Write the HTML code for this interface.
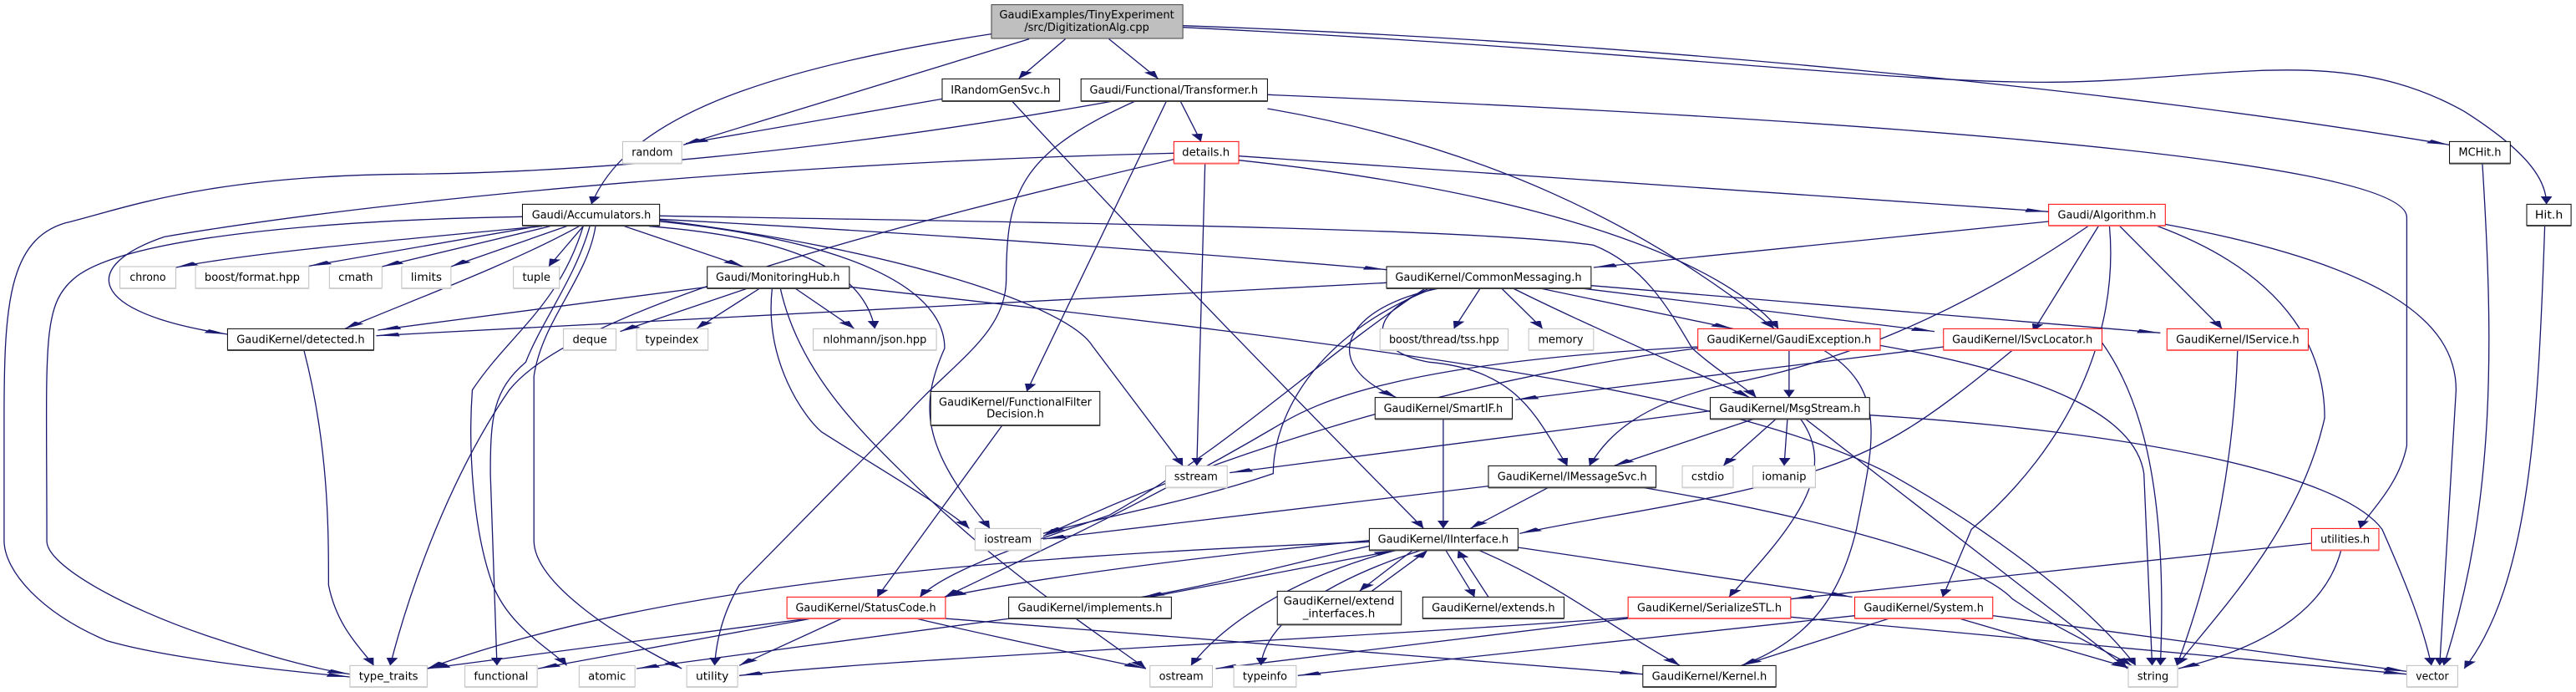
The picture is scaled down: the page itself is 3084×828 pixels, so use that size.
<!DOCTYPE html>
<html><head><meta charset="utf-8"><style>
html,body{margin:0;padding:0;background:#fff;}
svg{display:block;}
text{font-family:"DejaVu Sans","Liberation Sans",sans-serif;font-size:40px;fill:#000;}
.e{fill:none;stroke:#191970;stroke-width:1.3;vector-effect:non-scaling-stroke;marker-end:url(#a);}
.n{fill:#fff;stroke:#000;stroke-width:1;vector-effect:non-scaling-stroke;}
.g{fill:#fff;stroke:#bfbfbf;stroke-width:1;vector-effect:non-scaling-stroke;}
.r{fill:#fff;stroke:#ff0000;stroke-width:1;vector-effect:non-scaling-stroke;}
.s{stroke:#404040;stroke-width:2;vector-effect:non-scaling-stroke;}
.sg{stroke:#d0d0d0;stroke-width:2;vector-effect:non-scaling-stroke;}
.sr{stroke:#ff6060;stroke-width:2;vector-effect:non-scaling-stroke;}
</style></head><body>
<svg width="3084" height="828" viewBox="0 0 3136 2484" preserveAspectRatio="none" xmlns="http://www.w3.org/2000/svg">
<defs>
<marker id="a" markerUnits="userSpaceOnUse" viewBox="0 0 10 10" markerWidth="28" markerHeight="14" refX="10" refY="5" orient="auto" preserveAspectRatio="none">
<path d="M0,0 L10,5 L0,10 z" fill="#191970"/>
</marker>
</defs>

<!-- edges -->
<path class="e" d="M1207,122 C900,260 760,450 720,733"/>
<path class="e" d="M1253,140 L832,520"/>
<path class="e" d="M1297,140 L1240,283"/>
<path class="e" d="M1350,140 L1410,283"/>
<path class="e" d="M1440,92 C2000,150 2600,330 2982,520"/>
<path class="e" d="M1440,98 C2000,180 2300,300 2500,295 C2700,290 2850,150 3000,400 C3080,550 3100,650 3100,733"/>
<path class="e" d="M1147,355 L835,515"/>
<path class="e" d="M1232,363 C1400,900 1600,1500 1733,1897"/>
<path class="e" d="M1355,363 C1000,550 700,620 500,625 C250,630 150,750 80,800 C10,860 5,1100 5,1500 L5,1940 C5,2050 50,2200 130,2300 C200,2360 320,2400 426,2430"/>
<path class="e" d="M1382,363 C1240,550 1225,700 1225,1000 C1225,1200 1160,1300 1100,1500 L900,2100 C880,2200 872,2300 870,2389"/>
<path class="e" d="M1420,363 L1250,1405"/>
<path class="e" d="M1437,363 L1462,508"/>
<path class="e" d="M1543,390 C1800,520 2000,800 2160,1180"/>
<path class="e" d="M1543,340 C2200,420 2930,560 2930,780 L2930,1600 C2920,1750 2880,1850 2873,1897"/>
<path class="e" d="M1429,550 C1000,580 500,700 200,850 C100,950 100,1120 277,1200"/>
<path class="e" d="M1467,587 L1457,1672"/>
<path class="e" d="M1429,572 C1100,800 700,1100 620,1400 C550,1700 500,2100 475,2389"/>
<path class="e" d="M1508,560 L2494,760"/>
<path class="e" d="M1508,575 C1900,700 2100,950 2165,1180"/>
<path class="e" d="M660,812 C450,870 300,910 214,960"/>
<path class="e" d="M655,812 L376,955"/>
<path class="e" d="M670,812 L465,957"/>
<path class="e" d="M690,812 L549,957"/>
<path class="e" d="M710,812 L668,957"/>
<path class="e" d="M760,812 L905,957"/>
<path class="e" d="M705,812 C620,950 500,1080 420,1180"/>
<path class="e" d="M636,778 C400,790 150,850 90,1000 C50,1100 57,1242 57,1942 C57,2030 150,2180 250,2280 C320,2350 380,2400 426,2420"/>
<path class="e" d="M725,812 C715,1000 660,1150 650,1350 L650,1940 C650,2100 760,2300 830,2400"/>
<path class="e" d="M718,812 C700,1000 660,1150 640,1300 C600,1400 597,1500 597,1700 L605,2389"/>
<path class="e" d="M710,812 C680,1100 620,1200 575,1400 C570,1600 575,1900 600,2100 C620,2250 670,2330 690,2389"/>
<path class="e" d="M803,795 C1050,870 1150,1050 1150,1250 C1120,1450 1120,1600 1205,1897"/>
<path class="e" d="M803,790 C1100,900 1300,1100 1330,1242 L1440,1672"/>
<path class="e" d="M790,812 C950,850 1050,950 1065,1180"/>
<path class="e" d="M803,787 C1200,850 1500,920 1688,968"/>
<path class="e" d="M803,775 C1300,800 1800,820 1940,880 C2000,950 2030,1100 2060,1250 C2090,1330 2120,1380 2138,1427"/>
<path class="e" d="M861,1030 L460,1185"/>
<path class="e" d="M910,1035 L755,1190"/>
<path class="e" d="M925,1035 L848,1180"/>
<path class="e" d="M968,1035 L1040,1180"/>
<path class="e" d="M1034,1030 C1700,1250 2100,1400 2300,1700 C2450,1950 2550,2200 2600,2389"/>
<path class="e" d="M940,1035 C930,1300 980,1500 1000,1550 C1080,1700 1140,1800 1180,1897"/>
<path class="e" d="M950,1035 C970,1300 1030,1500 1100,1700 C1200,2000 1300,2200 1395,2400"/>
<path class="e" d="M370,1257 C400,1600 400,1900 400,2100 C410,2250 440,2330 455,2389"/>
<path class="e" d="M1688,1015 L458,1205"/>
<path class="e" d="M1802,1035 L1770,1180"/>
<path class="e" d="M1828,1035 L1878,1180"/>
<path class="e" d="M1875,1035 L2110,1180"/>
<path class="e" d="M1925,1035 L2355,1190"/>
<path class="e" d="M1937,1025 L2630,1195"/>
<path class="e" d="M1842,1035 C1920,1150 2000,1250 2130,1427"/>
<path class="e" d="M1740,1035 C1650,1150 1680,1270 1740,1300 C1850,1330 1870,1500 1908,1672"/>
<path class="e" d="M1752,1035 C1640,1100 1600,1300 1700,1427"/>
<path class="e" d="M1745,1035 C1600,1200 1550,1500 1550,1700 C1450,1800 1350,1850 1270,1915"/>
<path class="e" d="M1735,1035 C1600,1300 1500,1600 1350,1850 C1250,1950 1150,2050 1120,2143"/>
<path class="e" d="M2494,795 L1940,960"/>
<path class="e" d="M2555,810 L2475,1190"/>
<path class="e" d="M2580,810 L2705,1180"/>
<path class="e" d="M2543,810 C2400,1100 2250,1300 2100,1380 C2000,1450 1960,1550 1935,1672"/>
<path class="e" d="M2568,810 C2580,1200 2520,1600 2400,1900 L2365,2143"/>
<path class="e" d="M2625,810 C2800,1000 2830,1300 2830,1500 C2800,1900 2700,2200 2650,2389"/>
<path class="e" d="M2636,805 C2900,950 2990,1150 2990,1400 L2970,2389"/>
<path class="e" d="M2178,1257 L2178,1427"/>
<path class="e" d="M2289,1240 C2500,1350 2600,1500 2610,1700 L2620,2389"/>
<path class="e" d="M2220,1257 C2300,1400 2280,1600 2260,1900 C2240,2150 2200,2300 2120,2389"/>
<path class="e" d="M2067,1250 C1800,1350 1500,1600 1270,1925"/>
<path class="e" d="M2067,1245 C1700,1300 1600,1450 1560,1520 C1400,1800 1250,2000 1150,2143"/>
<path class="e" d="M2366,1245 L1845,1435"/>
<path class="e" d="M2450,1257 C2350,1500 2300,1600 2220,1680 C2100,1800 1950,1850 1850,1915"/>
<path class="e" d="M2559,1230 C2600,1400 2640,1700 2630,2389"/>
<path class="e" d="M2724,1257 C2720,1600 2700,2000 2650,2389"/>
<path class="e" d="M2082,1475 L1497,1697"/>
<path class="e" d="M2135,1504 L1965,1672"/>
<path class="e" d="M2162,1504 L2098,1672"/>
<path class="e" d="M2176,1504 L2172,1672"/>
<path class="e" d="M2192,1504 C2240,1700 2180,1900 2105,2143"/>
<path class="e" d="M2198,1504 L2590,2400"/>
<path class="e" d="M2276,1490 C2600,1550 2850,1700 2900,1900 C2930,2100 2950,2250 2960,2389"/>
<path class="e" d="M1757,1504 L1757,1897"/>
<path class="e" d="M1885,1750 L1790,1897"/>
<path class="e" d="M1812,1745 L1270,1935"/>
<path class="e" d="M2000,1750 C2200,1850 2400,2000 2450,2150 C2500,2250 2560,2330 2595,2389"/>
<path class="e" d="M1220,1527 L1068,2143"/>
<path class="e" d="M1667,1940 C1450,2000 1250,2080 1150,2143"/>
<path class="e" d="M1667,1960 C1560,2030 1480,2100 1390,2143"/>
<path class="e" d="M1720,1975 L1655,2122"/>
<path class="e" d="M1670,2122 L1738,1975"/>
<path class="e" d="M1760,1975 L1795,2143"/>
<path class="e" d="M1812,2143 L1775,1975"/>
<path class="e" d="M1800,1975 C1900,2100 1960,2250 2045,2389"/>
<path class="e" d="M1848,1965 L2255,2143"/>
<path class="e" d="M1667,1945 C1200,2000 800,2100 520,2400"/>
<path class="e" d="M1700,1975 C1600,2050 1500,2200 1450,2389"/>
<path class="e" d="M1730,1975 C1600,2100 1540,2250 1535,2389"/>
<path class="e" d="M1400,2143 L1700,1975"/>
<path class="e" d="M1230,2220 L775,2400"/>
<path class="e" d="M985,2220 L520,2400"/>
<path class="e" d="M985,2222 L655,2400"/>
<path class="e" d="M1025,2220 L900,2389"/>
<path class="e" d="M1115,2220 C1200,2280 1300,2340 1395,2400"/>
<path class="e" d="M1150,2220 C1500,2310 1800,2370 2000,2420"/>
<path class="e" d="M1982,2220 L1480,2400"/>
<path class="e" d="M1990,2215 C1600,2300 1100,2360 900,2425"/>
<path class="e" d="M2180,2215 L2930,2420"/>
<path class="e" d="M2385,2220 L2595,2400"/>
<path class="e" d="M2426,2210 L2930,2410"/>
<path class="e" d="M2300,2220 L2120,2389"/>
<path class="e" d="M2258,2210 L1580,2425"/>
<path class="e" d="M2814,1950 L2180,2150"/>
<path class="e" d="M2850,1975 C2830,2200 2750,2330 2652,2400"/>
<path class="e" d="M3022,587 C3035,1200 3040,1800 2975,2389"/>
<path class="e" d="M3098,810 C3090,1500 3080,2100 3000,2400"/>

<!-- nodes -->
<rect x="1207" y="17" width="233" height="121" fill="#bfbfbf" stroke="#404040" stroke-width="1" vector-effect="non-scaling-stroke"/>
<text x="1323" y="66" text-anchor="middle" textLength="213" lengthAdjust="spacingAndGlyphs">GaudiExamples/TinyExperiment</text>
<text x="1323" y="111" text-anchor="middle" textLength="152" lengthAdjust="spacingAndGlyphs">/src/DigitizationAlg.cpp</text>

<g>
<rect class="n" x="1147" y="283" width="143" height="80"/><line class="s" x1="1147" y1="363" x2="1290" y2="363"/>
<text x="1218" y="336" text-anchor="middle" textLength="121" lengthAdjust="spacingAndGlyphs">IRandomGenSvc.h</text>

<rect class="n" x="1316" y="283" width="227" height="80"/><line class="s" x1="1316" y1="363" x2="1543" y2="363"/>
<text x="1429" y="336" text-anchor="middle" textLength="205" lengthAdjust="spacingAndGlyphs">Gaudi/Functional/Transformer.h</text>

<rect class="g" x="758" y="508" width="72" height="79"/><line class="sg" x1="758" y1="587" x2="830" y2="587"/>
<text x="794" y="560" text-anchor="middle" textLength="50" lengthAdjust="spacingAndGlyphs">random</text>

<rect class="r" x="1429" y="508" width="79" height="79"/><line class="sr" x1="1429" y1="587" x2="1508" y2="587"/>
<text x="1468" y="560" text-anchor="middle" textLength="58" lengthAdjust="spacingAndGlyphs">details.h</text>

<rect class="n" x="636" y="733" width="167" height="77"/><line class="s" x1="636" y1="810" x2="803" y2="810"/>
<text x="720" y="785" text-anchor="middle" textLength="145" lengthAdjust="spacingAndGlyphs">Gaudi/Accumulators.h</text>

<rect class="g" x="146" y="957" width="68" height="78"/><line class="sg" x1="146" y1="1035" x2="214" y2="1035"/>
<text x="180" y="1008" text-anchor="middle" textLength="44" lengthAdjust="spacingAndGlyphs">chrono</text>
<rect class="g" x="238" y="957" width="138" height="78"/><line class="sg" x1="238" y1="1035" x2="376" y2="1035"/>
<text x="307" y="1008" text-anchor="middle" textLength="116" lengthAdjust="spacingAndGlyphs">boost/format.hpp</text>
<rect class="g" x="401" y="957" width="64" height="78"/><line class="sg" x1="401" y1="1035" x2="465" y2="1035"/>
<text x="433" y="1008" text-anchor="middle" textLength="42" lengthAdjust="spacingAndGlyphs">cmath</text>
<rect class="g" x="489" y="957" width="60" height="78"/><line class="sg" x1="489" y1="1035" x2="549" y2="1035"/>
<text x="519" y="1008" text-anchor="middle" textLength="38" lengthAdjust="spacingAndGlyphs">limits</text>
<rect class="g" x="625" y="957" width="56" height="78"/><line class="sg" x1="625" y1="1035" x2="681" y2="1035"/>
<text x="653" y="1008" text-anchor="middle" textLength="34" lengthAdjust="spacingAndGlyphs">tuple</text>

<rect class="n" x="861" y="957" width="173" height="78"/><line class="s" x1="861" y1="1035" x2="1034" y2="1035"/>
<text x="947" y="1008" text-anchor="middle" textLength="151" lengthAdjust="spacingAndGlyphs">Gaudi/MonitoringHub.h</text>

<rect class="n" x="277" y="1180" width="178" height="77"/><line class="s" x1="277" y1="1257" x2="455" y2="1257"/>
<text x="366" y="1232" text-anchor="middle" textLength="156" lengthAdjust="spacingAndGlyphs">GaudiKernel/detected.h</text>

<rect class="g" x="686" y="1180" width="64" height="77"/><line class="sg" x1="686" y1="1257" x2="750" y2="1257"/>
<text x="718" y="1232" text-anchor="middle" textLength="42" lengthAdjust="spacingAndGlyphs">deque</text>
<rect class="g" x="775" y="1180" width="87" height="77"/><line class="sg" x1="775" y1="1257" x2="862" y2="1257"/>
<text x="818" y="1232" text-anchor="middle" textLength="65" lengthAdjust="spacingAndGlyphs">typeindex</text>
<rect class="g" x="990" y="1180" width="150" height="77"/><line class="sg" x1="990" y1="1257" x2="1140" y2="1257"/>
<text x="1065" y="1232" text-anchor="middle" textLength="126" lengthAdjust="spacingAndGlyphs">nlohmann/json.hpp</text>

<rect class="n" x="2982" y="508" width="74" height="79"/><line class="s" x1="2982" y1="587" x2="3056" y2="587"/>
<text x="3019" y="560" text-anchor="middle" textLength="52" lengthAdjust="spacingAndGlyphs">MCHit.h</text>
<rect class="n" x="3076" y="733" width="54" height="77"/><line class="s" x1="3076" y1="810" x2="3130" y2="810"/>
<text x="3103" y="785" text-anchor="middle" textLength="34" lengthAdjust="spacingAndGlyphs">Hit.h</text>

<rect class="r" x="2494" y="733" width="142" height="77"/><line class="sr" x1="2494" y1="810" x2="2636" y2="810"/>
<text x="2565" y="785" text-anchor="middle" textLength="120" lengthAdjust="spacingAndGlyphs">Gaudi/Algorithm.h</text>

<rect class="n" x="1688" y="957" width="249" height="78"/><line class="s" x1="1688" y1="1035" x2="1937" y2="1035"/>
<text x="1812" y="1008" text-anchor="middle" textLength="227" lengthAdjust="spacingAndGlyphs">GaudiKernel/CommonMessaging.h</text>

<rect class="g" x="1680" y="1180" width="156" height="77"/><line class="sg" x1="1680" y1="1257" x2="1836" y2="1257"/>
<text x="1758" y="1232" text-anchor="middle" textLength="134" lengthAdjust="spacingAndGlyphs">boost/thread/tss.hpp</text>
<rect class="g" x="1861" y="1180" width="79" height="77"/><line class="sg" x1="1861" y1="1257" x2="1940" y2="1257"/>
<text x="1900" y="1232" text-anchor="middle" textLength="55" lengthAdjust="spacingAndGlyphs">memory</text>

<rect class="r" x="2067" y="1180" width="222" height="77"/><line class="sr" x1="2067" y1="1257" x2="2289" y2="1257"/>
<text x="2178" y="1232" text-anchor="middle" textLength="200" lengthAdjust="spacingAndGlyphs">GaudiKernel/GaudiException.h</text>
<rect class="r" x="2366" y="1180" width="193" height="77"/><line class="sr" x1="2366" y1="1257" x2="2559" y2="1257"/>
<text x="2462" y="1232" text-anchor="middle" textLength="171" lengthAdjust="spacingAndGlyphs">GaudiKernel/ISvcLocator.h</text>
<rect class="r" x="2638" y="1180" width="172" height="77"/><line class="sr" x1="2638" y1="1257" x2="2810" y2="1257"/>
<text x="2724" y="1232" text-anchor="middle" textLength="150" lengthAdjust="spacingAndGlyphs">GaudiKernel/IService.h</text>

<rect class="n" x="1133" y="1405" width="206" height="122"/><line class="s" x1="1133" y1="1527" x2="1339" y2="1527"/>
<text x="1236" y="1456" text-anchor="middle" textLength="186" lengthAdjust="spacingAndGlyphs">GaudiKernel/FunctionalFilter</text>
<text x="1236" y="1498" text-anchor="middle" textLength="70" lengthAdjust="spacingAndGlyphs">Decision.h</text>

<rect class="n" x="1674" y="1427" width="167" height="77"/><line class="s" x1="1674" y1="1504" x2="1841" y2="1504"/>
<text x="1757" y="1479" text-anchor="middle" textLength="145" lengthAdjust="spacingAndGlyphs">GaudiKernel/SmartIF.h</text>
<rect class="n" x="2082" y="1427" width="194" height="77"/><line class="s" x1="2082" y1="1504" x2="2276" y2="1504"/>
<text x="2179" y="1479" text-anchor="middle" textLength="172" lengthAdjust="spacingAndGlyphs">GaudiKernel/MsgStream.h</text>

<rect class="g" x="1419" y="1672" width="75" height="78"/><line class="sg" x1="1419" y1="1750" x2="1494" y2="1750"/>
<text x="1456" y="1724" text-anchor="middle" textLength="53" lengthAdjust="spacingAndGlyphs">sstream</text>
<rect class="n" x="1812" y="1672" width="204" height="78"/><line class="s" x1="1812" y1="1750" x2="2016" y2="1750"/>
<text x="1914" y="1724" text-anchor="middle" textLength="182" lengthAdjust="spacingAndGlyphs">GaudiKernel/IMessageSvc.h</text>
<rect class="g" x="2048" y="1672" width="62" height="78"/><line class="sg" x1="2048" y1="1750" x2="2110" y2="1750"/>
<text x="2079" y="1724" text-anchor="middle" textLength="40" lengthAdjust="spacingAndGlyphs">cstdio</text>
<rect class="g" x="2134" y="1672" width="76" height="78"/><line class="sg" x1="2134" y1="1750" x2="2210" y2="1750"/>
<text x="2172" y="1724" text-anchor="middle" textLength="54" lengthAdjust="spacingAndGlyphs">iomanip</text>

<rect class="g" x="1187" y="1897" width="80" height="78"/><line class="sg" x1="1187" y1="1975" x2="1267" y2="1975"/>
<text x="1227" y="1949" text-anchor="middle" textLength="58" lengthAdjust="spacingAndGlyphs">iostream</text>
<rect class="n" x="1667" y="1897" width="181" height="78"/><line class="s" x1="1667" y1="1975" x2="1848" y2="1975"/>
<text x="1757" y="1949" text-anchor="middle" textLength="159" lengthAdjust="spacingAndGlyphs">GaudiKernel/IInterface.h</text>
<rect class="r" x="2814" y="1897" width="82" height="78"/><line class="sr" x1="2814" y1="1975" x2="2896" y2="1975"/>
<text x="2855" y="1949" text-anchor="middle" textLength="60" lengthAdjust="spacingAndGlyphs">utilities.h</text>

<rect class="r" x="958" y="2143" width="193" height="77"/><line class="sr" x1="958" y1="2220" x2="1151" y2="2220"/>
<text x="1054" y="2195" text-anchor="middle" textLength="171" lengthAdjust="spacingAndGlyphs">GaudiKernel/StatusCode.h</text>
<rect class="n" x="1228" y="2143" width="198" height="77"/><line class="s" x1="1228" y1="2220" x2="1426" y2="2220"/>
<text x="1327" y="2195" text-anchor="middle" textLength="176" lengthAdjust="spacingAndGlyphs">GaudiKernel/implements.h</text>
<rect class="n" x="1555" y="2122" width="151" height="120"/><line class="s" x1="1555" y1="2242" x2="1706" y2="2242"/>
<text x="1630" y="2170" text-anchor="middle" textLength="135" lengthAdjust="spacingAndGlyphs">GaudiKernel/extend</text>
<text x="1630" y="2215" text-anchor="middle" textLength="88" lengthAdjust="spacingAndGlyphs">_interfaces.h</text>
<rect class="n" x="1732" y="2143" width="172" height="77"/><line class="s" x1="1732" y1="2220" x2="1904" y2="2220"/>
<text x="1818" y="2195" text-anchor="middle" textLength="150" lengthAdjust="spacingAndGlyphs">GaudiKernel/extends.h</text>
<rect class="r" x="1982" y="2143" width="198" height="77"/><line class="sr" x1="1982" y1="2220" x2="2180" y2="2220"/>
<text x="2081" y="2195" text-anchor="middle" textLength="176" lengthAdjust="spacingAndGlyphs">GaudiKernel/SerializeSTL.h</text>
<rect class="r" x="2258" y="2143" width="168" height="77"/><line class="sr" x1="2258" y1="2220" x2="2426" y2="2220"/>
<text x="2342" y="2195" text-anchor="middle" textLength="146" lengthAdjust="spacingAndGlyphs">GaudiKernel/System.h</text>

<rect class="g" x="426" y="2389" width="94" height="77"/><line class="sg" x1="426" y1="2466" x2="520" y2="2466"/>
<text x="473" y="2441" text-anchor="middle" textLength="72" lengthAdjust="spacingAndGlyphs">type_traits</text>
<rect class="g" x="566" y="2389" width="88" height="77"/><line class="sg" x1="566" y1="2466" x2="654" y2="2466"/>
<text x="610" y="2441" text-anchor="middle" textLength="66" lengthAdjust="spacingAndGlyphs">functional</text>
<rect class="g" x="705" y="2389" width="68" height="77"/><line class="sg" x1="705" y1="2466" x2="773" y2="2466"/>
<text x="739" y="2441" text-anchor="middle" textLength="46" lengthAdjust="spacingAndGlyphs">atomic</text>
<rect class="g" x="836" y="2389" width="62" height="77"/><line class="sg" x1="836" y1="2466" x2="898" y2="2466"/>
<text x="867" y="2441" text-anchor="middle" textLength="40" lengthAdjust="spacingAndGlyphs">utility</text>
<rect class="g" x="1400" y="2389" width="76" height="77"/><line class="sg" x1="1400" y1="2466" x2="1476" y2="2466"/>
<text x="1438" y="2441" text-anchor="middle" textLength="54" lengthAdjust="spacingAndGlyphs">ostream</text>
<rect class="g" x="1502" y="2389" width="76" height="77"/><line class="sg" x1="1502" y1="2466" x2="1578" y2="2466"/>
<text x="1540" y="2441" text-anchor="middle" textLength="54" lengthAdjust="spacingAndGlyphs">typeinfo</text>
<rect class="n" x="2000" y="2389" width="162" height="77"/><line class="s" x1="2000" y1="2466" x2="2162" y2="2466"/>
<text x="2081" y="2441" text-anchor="middle" textLength="140" lengthAdjust="spacingAndGlyphs">GaudiKernel/Kernel.h</text>
<rect class="g" x="2591" y="2389" width="60" height="77"/><line class="sg" x1="2591" y1="2466" x2="2651" y2="2466"/>
<text x="2621" y="2441" text-anchor="middle" textLength="38" lengthAdjust="spacingAndGlyphs">string</text>
<rect class="g" x="2930" y="2389" width="62" height="77"/><line class="sg" x1="2930" y1="2466" x2="2992" y2="2466"/>
<text x="2961" y="2441" text-anchor="middle" textLength="40" lengthAdjust="spacingAndGlyphs">vector</text>
</g>
</svg>
</body></html>
